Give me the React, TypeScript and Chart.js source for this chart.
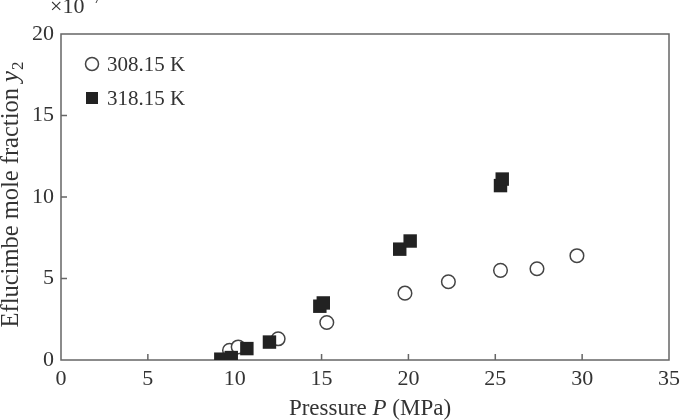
import React, { useEffect, useRef } from "react";
import { Chart, registerables } from "chart.js";

Chart.register(...registerables);

const seriesLabels = ["308.15 K", "318.15 K"];
const p308 = [9.7, 10.2, 12.5, 15.3, 19.8, 22.3, 25.3, 27.4, 29.7];
const y308 = [0.6, 0.8, 1.3, 2.3, 4.1, 4.8, 5.5, 5.6, 6.4];
const p318 = [9.2, 9.8, 10.7, 12.0, 14.9, 15.1, 19.5, 20.1, 25.3, 25.4];
const y318 = [0.05, 0.15, 0.7, 1.1, 3.3, 3.5, 6.8, 7.3, 10.7, 11.1];
const xTicks = [0, 5, 10, 15, 20, 25, 30, 35];
const yTicks = [0, 5, 10, 15, 20];
const xTitleParts = ["Pressure ", "P", " (MPa)"];
const yTitleParts = ["Eflucimbe mole fraction ", "y", "2"];
const scaleNote = ["×10", "−7"];

const FONT = '"Liberation Serif", "Times New Roman", serif';
const TEXT = "#333";
const AXIS = "#666";

const decorPlugin = {
  id: "decor",
  beforeDatasetsDraw(chart: any) {
    const { ctx, chartArea: a, scales } = chart;
    ctx.save();
    ctx.strokeStyle = AXIS;
    ctx.lineWidth = 1.5;
    ctx.strokeRect(a.left, a.top, a.right - a.left, a.bottom - a.top);
    ctx.beginPath();
    xTicks.forEach((v) => {
      if (v === xTicks[0] || v === xTicks[xTicks.length - 1]) return;
      const px = scales.x.getPixelForValue(v);
      ctx.moveTo(px, a.bottom);
      ctx.lineTo(px, a.bottom - 6);
    });
    yTicks.forEach((v) => {
      if (v === yTicks[0] || v === yTicks[yTicks.length - 1]) return;
      const py = scales.y.getPixelForValue(v);
      ctx.moveTo(a.left, py);
      ctx.lineTo(a.left + 6, py);
    });
    ctx.stroke();
    ctx.restore();
  },
  afterDraw(chart: any) {
    const { ctx } = chart;
    ctx.save();
    ctx.fillStyle = TEXT;
    // x title
    const f = `23px ${FONT}`;
    const fi = `italic 23px ${FONT}`;
    ctx.textBaseline = "alphabetic";
    ctx.font = f;
    const w0 = ctx.measureText(xTitleParts[0]).width;
    const w2 = ctx.measureText(xTitleParts[2]).width;
    ctx.font = fi;
    const w1 = ctx.measureText(xTitleParts[1]).width;
    let x = 370 - (w0 + w1 + w2) / 2;
    const by = 415;
    ctx.font = f;
    ctx.fillText(xTitleParts[0], x, by);
    x += w0;
    ctx.font = fi;
    ctx.fillText(xTitleParts[1], x, by);
    x += w1;
    ctx.font = f;
    ctx.fillText(xTitleParts[2], x, by);

    // y title
    const yf = `24.5px ${FONT}`;
    const yfi = `italic 24.5px ${FONT}`;
    const ysub = `17px ${FONT}`;
    ctx.save();
    ctx.translate(18, 195);
    ctx.rotate(-Math.PI / 2);
    ctx.font = yf;
    const v0 = ctx.measureText(yTitleParts[0]).width;
    ctx.font = yfi;
    const v1 = ctx.measureText(yTitleParts[1]).width;
    ctx.font = ysub;
    const v2 = ctx.measureText(yTitleParts[2]).width;
    let t = -(v0 + v1 + v2) / 2;
    ctx.font = yf;
    ctx.fillText(yTitleParts[0], t, 0);
    t += v0;
    ctx.font = yfi;
    ctx.fillText(yTitleParts[1], t, 0);
    t += v1 + 1;
    ctx.font = ysub;
    ctx.fillText(yTitleParts[2], t, 5);
    ctx.restore();

    // scale note
    ctx.font = `22px ${FONT}`;
    ctx.fillText(scaleNote[0], 50, 13);
    const sw = ctx.measureText(scaleNote[0]).width;
    ctx.font = `15px ${FONT}`;
    ctx.fillText(scaleNote[1], 50 + sw + 1, 3);

    // legend
    chart.data.datasets.forEach((ds: any, i: number) => {
      const cx = 92;
      const cy = 64 + 34 * i;
      if (ds.pointStyle === "circle") {
        ctx.beginPath();
        ctx.arc(cx, cy, 6.5, 0, Math.PI * 2);
        ctx.fillStyle = "#fff";
        ctx.fill();
        ctx.lineWidth = 1.5;
        ctx.strokeStyle = "#444";
        ctx.stroke();
      } else {
        ctx.fillStyle = "#222";
        ctx.fillRect(cx - 6, cy - 6, 12, 12);
      }
      ctx.fillStyle = TEXT;
      ctx.font = `21px ${FONT}`;
      ctx.textBaseline = "middle";
      ctx.fillText(ds.label, 107, cy + 1);
      ctx.textBaseline = "alphabetic";
    });
    ctx.restore();
  },
};

export default function App() {
  const ref = useRef<HTMLCanvasElement | null>(null);
  useEffect(() => {
    document.body.style.margin = "0";
    const canvas = ref.current;
    if (!canvas) return;
    const chart = new Chart(canvas, {
      type: "scatter",
      data: {
        datasets: [
          {
            label: seriesLabels[0],
            data: p308.map((p, i) => ({ x: p, y: y308[i] })),
            pointStyle: "circle",
            pointRadius: 6.8,
            pointBackgroundColor: "#fff",
            pointBorderColor: "#444",
            pointBorderWidth: 1.5,
            order: 2,
          },
          {
            label: seriesLabels[1],
            data: p318.map((p, i) => ({ x: p, y: y318[i] })),
            pointStyle: "rect",
            pointRadius: 9.5,
            pointBackgroundColor: "#222",
            pointBorderColor: "#222",
            pointBorderWidth: 0,
            order: 1,
          },
        ],
      },
      options: {
        animation: false,
        responsive: false,
        events: [],
        layout: { padding: { top: 34, right: 15, left: 0, bottom: 0 } },
        plugins: { legend: { display: false }, tooltip: { enabled: false } },
        scales: {
          x: {
            type: "linear",
            min: xTicks[0],
            max: xTicks[xTicks.length - 1],
            afterBuildTicks: (s: any) => {
              s.ticks = xTicks.map((v) => ({ value: v }));
            },
            afterFit: (s: any) => {
              s.height = 60;
              s.paddingRight = 0;
              s.paddingLeft = 0;
            },
            grid: { display: false, drawTicks: false },
            border: { display: false },
            ticks: {
              padding: 6,
              color: TEXT,
              font: { family: FONT, size: 22 },
              maxRotation: 0,
            },
          },
          y: {
            type: "linear",
            min: yTicks[0],
            max: yTicks[yTicks.length - 1],
            afterBuildTicks: (s: any) => {
              s.ticks = yTicks.map((v) => ({ value: v }));
            },
            afterFit: (s: any) => {
              s.width = 61;
              s.paddingTop = 0;
              s.paddingBottom = 0;
            },
            grid: { display: false, drawTicks: false },
            border: { display: false },
            ticks: {
              padding: 7,
              color: TEXT,
              font: { family: FONT, size: 22 },
            },
          },
        },
      },
      plugins: [decorPlugin],
    });
    return () => chart.destroy();
  }, []);
  return (
    <div style={{ width: 684, height: 420 }}>
      <canvas ref={ref} width={684} height={420} style={{ display: "block" }} />
    </div>
  );
}
